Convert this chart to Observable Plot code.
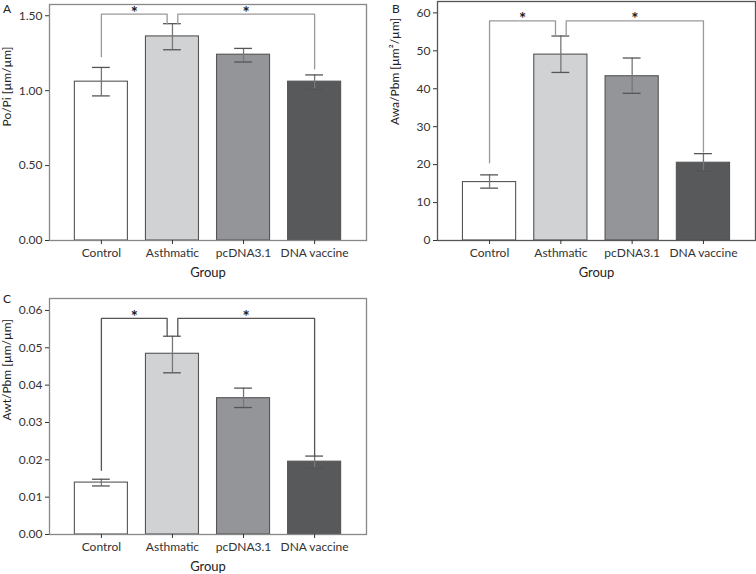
<!DOCTYPE html>
<html>
<head>
<meta charset="utf-8">
<script src="https://cdn.jsdelivr.net/npm/d3@7"></script>
<script src="https://cdn.jsdelivr.net/npm/@observablehq/plot@0.6"></script>
<style>
  html, body { margin: 0; padding: 0; background: #fff; }
  #wrap { position: relative; width: 756px; height: 574px; font-family: Lato, "Noto Sans", sans-serif; }
  #wrap svg { position: absolute; overflow: visible; }
  .letter { position: absolute; font-size: 12px; color: #222; line-height: 1; }
</style>
</head>
<body>
<div id="wrap"></div>
<script>
const groups = ["Control", "Asthmatic", "pcDNA3.1", "DNA vaccine"];
const barColors = ["#ffffff", "#d1d2d4", "#939598", "#58595b"];

// Panel A: Po/Pi [µm/µm]
const poPiMean = [1.06, 1.362, 1.24, 1.06];
const poPiLow  = [0.965, 1.273, 1.191, 1.009];
const poPiHigh = [1.155, 1.447, 1.282, 1.105];
const poPiTicks = [0, 0.5, 1.0, 1.5];
const poPiBrackets = [
  {from: 0, to: 1, yFrom: 1.227, yTo: 1.447, top: 1.511},
  {from: 1, to: 3, yFrom: 1.447, yTo: 1.145, top: 1.511}
];

// Panel B: Awa/Pbm [µm²/µm]
const awaMean = [15.4, 49.0, 43.3, 20.5];
const awaLow  = [13.8, 44.3, 38.8, 18.3];
const awaHigh = [17.3, 53.9, 48.1, 22.9];
const awaTicks = [0, 10, 20, 30, 40, 50, 60];
const awaBrackets = [
  {from: 0, to: 1, yFrom: 20.5, yTo: 53.9, top: 57.9},
  {from: 1, to: 3, yFrom: 53.9, yTo: 23.3, top: 57.9}
];

// Panel C: Awt/Pbm [µm/µm]
const awtMean = [0.0139, 0.0484, 0.0365, 0.0195];
const awtLow  = [0.0130, 0.0433, 0.0340, 0.0178];
const awtHigh = [0.0148, 0.0531, 0.0392, 0.0210];
const awtTicks = [0, 0.01, 0.02, 0.03, 0.04, 0.05, 0.06];
const awtBrackets = [
  {from: 0, to: 1, yFrom: 0.0172, yTo: 0.0531, top: 0.0579},
  {from: 1, to: 3, yFrom: 0.0531, yTo: 0.0210, top: 0.0579}
];

const HALF = 0.373;   // half bar width in group units
const CAP = 0.125;    // half cap width
const GAP = 0.075;    // bracket offset at shared group

function panel({mean, low, high, ticks, fmt, yMax, yLabel, brackets, left, top, mt, mb, ml, mr, frameColor, bracketColor}) {
  const rows = groups.map((g, i) => ({i, g, mean: mean[i], low: low[i], high: high[i], color: barColors[i]}));
  const bracketPaths = [];
  const stars = [];
  brackets.forEach((b, k) => {
    const xa = b.from + (k === 1 ? GAP : 0);
    const xb = b.to - (k === 0 ? GAP : 0);
    bracketPaths.push([
      {k, x: xa, y: b.yFrom}, {k, x: xa, y: b.top}, {k, x: xb, y: b.top}, {k, x: xb, y: b.yTo}
    ]);
    stars.push({x: (xa + xb) / 2, y: b.top});
  });
  const svg = Plot.plot({
    width: 378,
    height: 287,
    marginTop: mt, marginBottom: mb, marginLeft: ml, marginRight: mr,
    style: {fontFamily: "Lato, 'Noto Sans', sans-serif", fontSize: "12px", color: "#333", background: "transparent"},
    x: {type: "linear", domain: [-0.73, 3.73]},
    y: {domain: [0, yMax]},
    marks: [
      Plot.rectY(rows, {x1: d => d.i - HALF, x2: d => d.i + HALF, y1: 0, y2: "mean", fill: "color", stroke: "#555", strokeWidth: 1.1}),
      Plot.ruleX(rows, {x: "i", y1: "low", y2: "high", stroke: "#777", strokeWidth: 1.3}),
      Plot.ruleY(rows, {y: "high", x1: d => d.i - CAP, x2: d => d.i + CAP, stroke: "#555", strokeWidth: 1.3}),
      Plot.ruleY(rows, {y: "low", x1: d => d.i - CAP, x2: d => d.i + CAP, stroke: "#555", strokeWidth: 1.3}),
      ...bracketPaths.map(p => Plot.line(p, {x: "x", y: "y", stroke: bracketColor, strokeWidth: 1.3})),
      Plot.text(stars, {x: "x", y: "y", text: () => "*", fontSize: 17, fontWeight: "bold", dy: -1, fill: "#222"}),
      Plot.frame({stroke: frameColor, strokeWidth: 1.3}),
      Plot.axisY({ticks, tickFormat: fmt, tickSize: 4, tickPadding: 3, label: null, color: "#333", fontSize: 12}),
      Plot.axisX({ticks: [0, 1, 2, 3], tickFormat: i => groups[i], tickSize: 4, tickPadding: 4, label: null, color: "#333", fontSize: 12}),
      Plot.text([yLabel], {frameAnchor: "left", text: d => d, rotate: -90, dx: -42, dy: 4, fontSize: 12, fill: "#222"}),
      Plot.text(["Group"], {frameAnchor: "bottom", text: d => d, dy: 36, fontSize: 13, fill: "#222"})
    ]
  });
  svg.style.left = left + "px";
  svg.style.top = top + "px";
  document.getElementById("wrap").appendChild(svg);
}

panel({mean: poPiMean, low: poPiLow, high: poPiHigh, ticks: poPiTicks, fmt: d3.format(".2f"), yMax: 1.575,
  yLabel: "Po/Pi [µm/µm]", brackets: poPiBrackets, left: 0, top: 0, mt: 4, mb: 47, ml: 49, mr: 12,
  frameColor: "#888", bracketColor: "#999"});
panel({mean: awaMean, low: awaLow, high: awaHigh, ticks: awaTicks, fmt: d3.format("d"), yMax: 63,
  yLabel: "Awa/Pbm [µm²/µm]", brackets: awaBrackets, left: 378, top: 0, mt: 1, mb: 47, ml: 59, mr: 1,
  frameColor: "#555", bracketColor: "#999"});
panel({mean: awtMean, low: awtLow, high: awtHigh, ticks: awtTicks, fmt: d3.format(".2f"), yMax: 0.0632,
  yLabel: "Awt/Pbm [µm/µm]", brackets: awtBrackets, left: 0, top: 287, mt: 11, mb: 40, ml: 49, mr: 12,
  frameColor: "#888", bracketColor: "#555"});

const letters = [["A", 3, 3], ["B", 392, 3], ["C", 3, 293]];
for (const [t, x, y] of letters) {
  const d = document.createElement("div");
  d.className = "letter";
  d.textContent = t;
  d.style.left = x + "px";
  d.style.top = y + "px";
  document.getElementById("wrap").appendChild(d);
}
</script>
</body>
</html>
